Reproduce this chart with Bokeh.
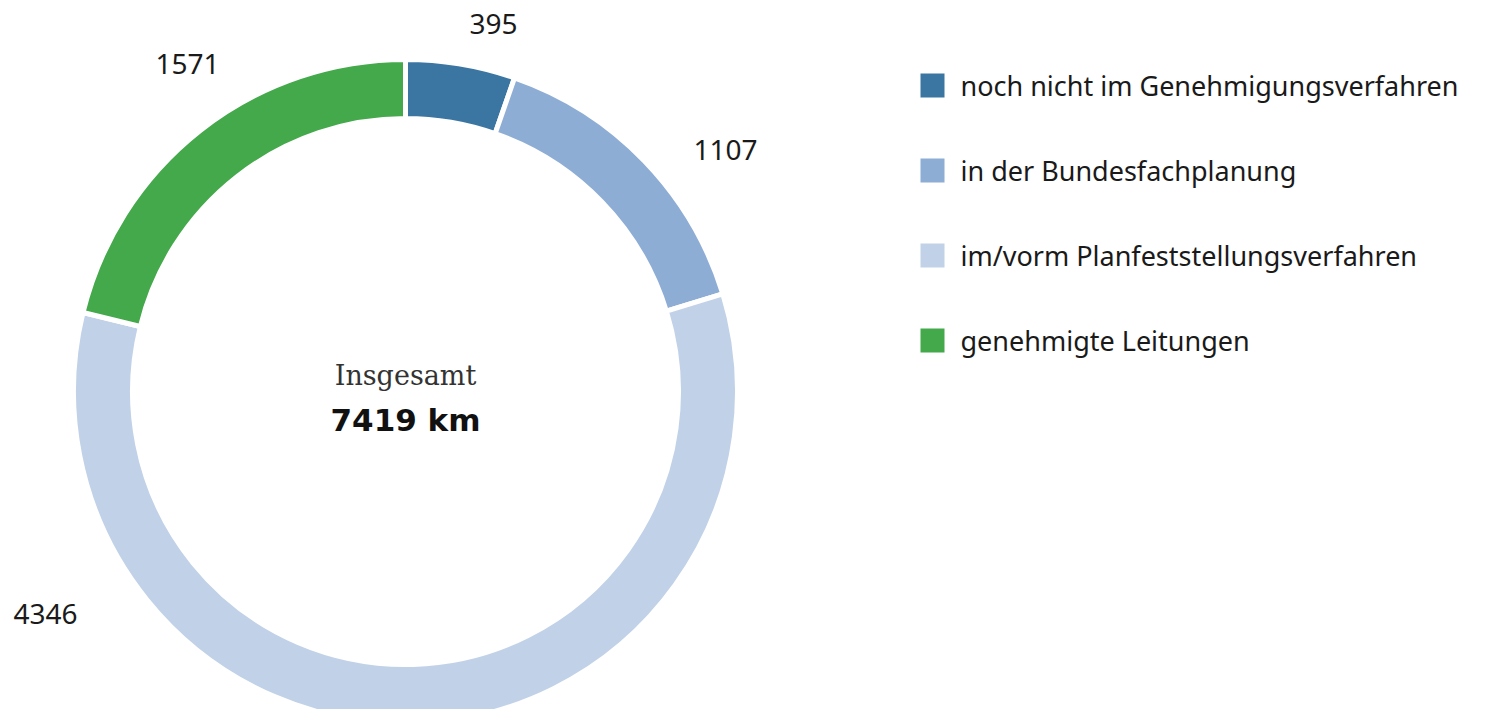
import math
from bokeh.plotting import figure
from bokeh.models import Range1d, ColumnDataSource
from bokeh.core.properties import value
from bokeh.embed import file_html
from bokeh.resources import INLINE

categories = ["noch nicht im Genehmigungsverfahren", "in der Bundesfachplanung",
              "im/vorm Planfeststellungsverfahren", "genehmigte Leitungen"]
values = [395, 1107, 4346, 1571]
colors = ["#3b76a2", "#8eadd5", "#c0d1e8", "#43a94a"]
total_label = "7419 km"
center_title = "Insgesamt"

# layout constants (image pixels)
W, H = 1469, 709
CX, CY = 405, 391
R_OUT, R_IN = 332, 273
LABEL_POS = [(493, 23), (725, 149), (45, 613), (187, 63)]
LEG_X, LEG_Y0, LEG_DY, LEG_SZ = 932, 85, 85, 24

def py(y):
    return H - y

total = sum(values)
starts, ends = [], []
cum = 0
for v in values:
    starts.append(math.pi / 2 - cum / total * 2 * math.pi)
    cum += v
    ends.append(math.pi / 2 - cum / total * 2 * math.pi)

p = figure(width=W, height=H, x_range=Range1d(0, W), y_range=Range1d(0, H),
           output_backend="svg", toolbar_location=None, min_border=0)
p.axis.visible = False
p.grid.visible = False
p.outline_line_color = None
p.background_fill_color = "white"

src = ColumnDataSource(dict(start=starts, end=ends, color=colors))
p.annular_wedge(x=CX, y=py(CY), inner_radius=R_IN, outer_radius=R_OUT,
                start_angle="start", end_angle="end", direction="clock",
                fill_color="color", line_color="white", line_width=5, source=src)

# value labels
p.text(x=[lp[0] for lp in LABEL_POS], y=[py(lp[1]) for lp in LABEL_POS],
       text=[str(v) for v in values], text_align="center", text_baseline="middle",
       text_font=value("Noto Sans"), text_font_size="28px", text_color="#1a1a1a")

# center text
p.text(x=[CX], y=[py(375)], text=[center_title], text_align="center", text_baseline="middle",
       text_font=value("DejaVu Serif"), text_font_size="27px", text_color="#333333")
p.text(x=[CX], y=[py(419)], text=[total_label], text_align="center", text_baseline="middle",
       text_font=value("DejaVu Sans"), text_font_size="31px", text_font_style="bold",
       text_color="#111111")

# legend
ly = [py(LEG_Y0 + i * LEG_DY) for i in range(len(categories))]
p.rect(x=[LEG_X] * len(categories), y=ly, width=LEG_SZ, height=LEG_SZ,
       fill_color=colors, line_color=None)
p.text(x=[960] * len(categories), y=ly, text=categories, text_align="left",
       text_baseline="middle", text_font=value("Noto Sans"), text_font_size="27px",
       text_color="#1a1a1a")

open("out.html", "w").write(file_html(p, INLINE))
